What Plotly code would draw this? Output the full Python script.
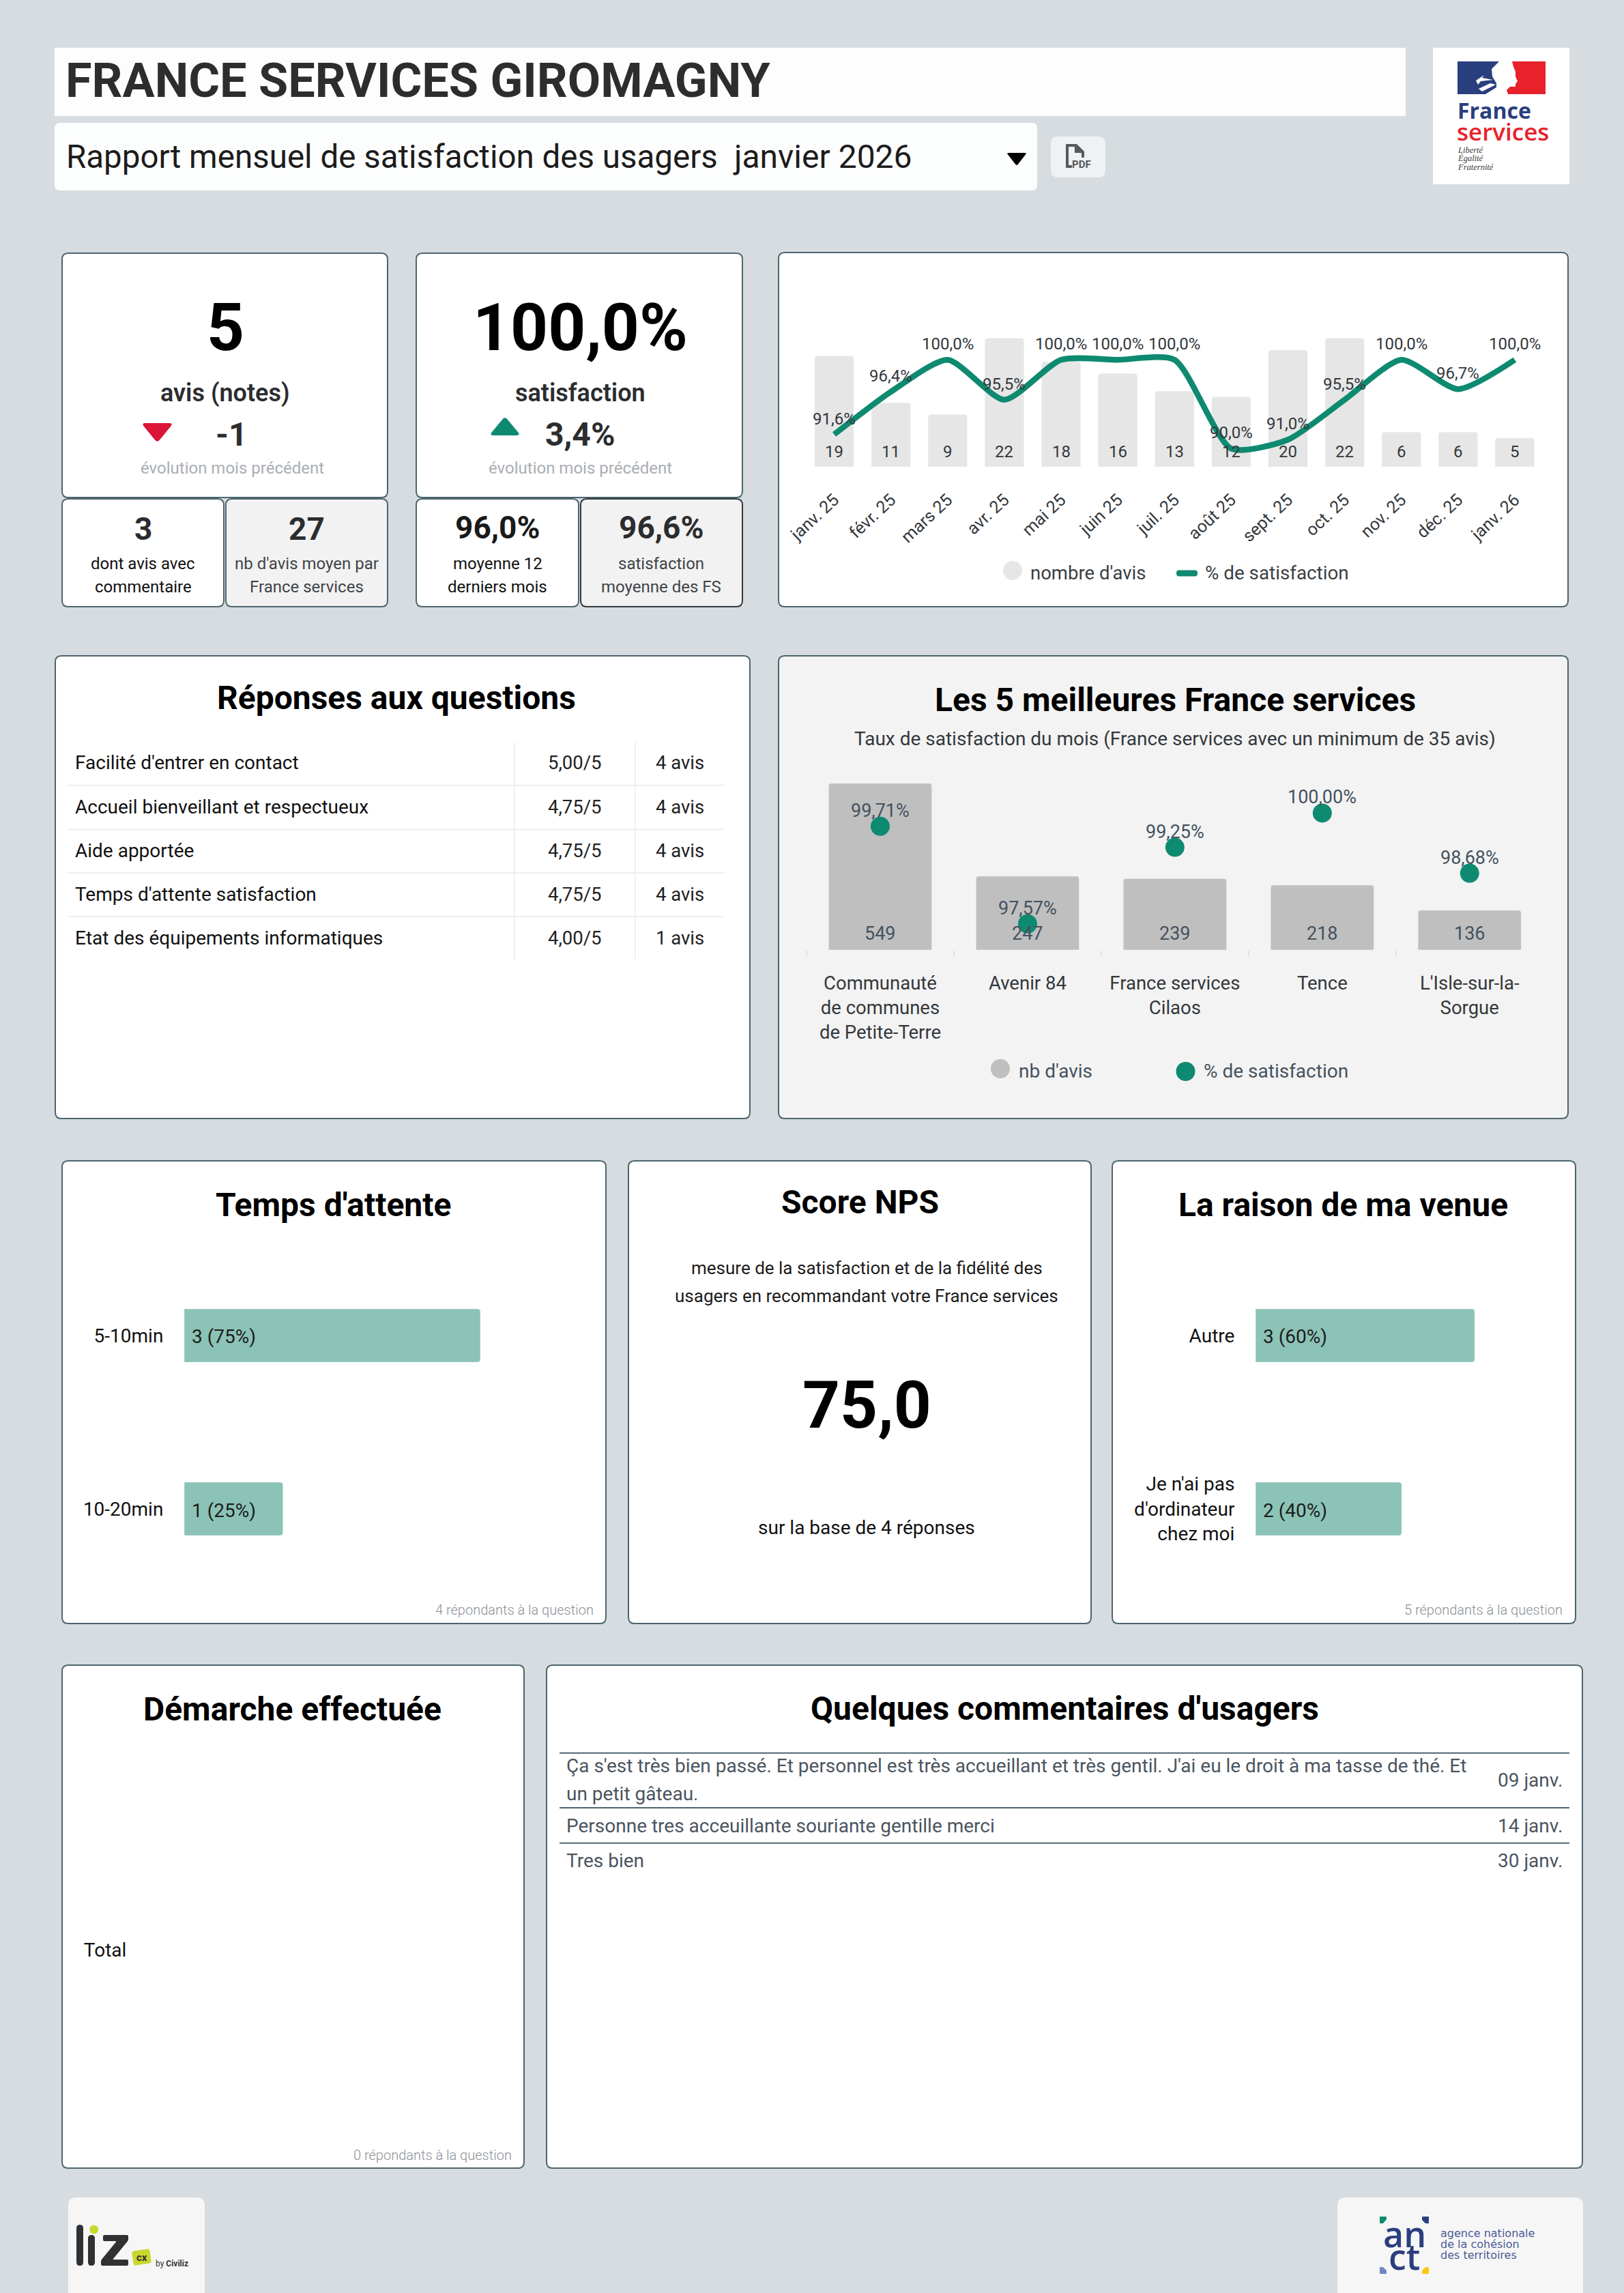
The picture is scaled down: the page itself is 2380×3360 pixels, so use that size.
import plotly.graph_objects as go

# ---------- data ----------
months = ["janv. 25", "févr. 25", "mars 25", "avr. 25", "mai 25", "juin 25", "juil. 25",
          "août 25", "sept. 25", "oct. 25", "nov. 25", "déc. 25", "janv. 26"]
nb_avis = [19, 11, 9, 22, 18, 16, 13, 12, 20, 22, 6, 6, 5]
satisfaction = [91.6, 96.4, 100.0, 95.5, 100.0, 100.0, 100.0, 90.0, 91.0, 95.5, 100.0, 96.7, 100.0]

top5_names = ["Communauté<br>de communes<br>de Petite-Terre", "Avenir 84", "France services<br>Cilaos",
              "Tence", "L'Isle-sur-la-<br>Sorgue"]
top5_avis = [549, 247, 239, 218, 136]
top5_satisf = [99.71, 97.57, 99.25, 100.00, 98.68]

questions = ["Facilité d'entrer en contact", "Accueil bienveillant et respectueux", "Aide apportée",
             "Temps d'attente satisfaction", "Etat des équipements informatiques"]
question_notes = ["5,00/5", "4,75/5", "4,75/5", "4,75/5", "4,00/5"]
question_avis = ["4 avis", "4 avis", "4 avis", "4 avis", "1 avis"]

attente_cat = ["5-10min", "10-20min"]
attente_val = [3, 1]
attente_lbl = ["3 (75%)", "1 (25%)"]

raison_cat = ["Autre", "Je n'ai pas<br>d'ordinateur<br>chez moi"]
raison_val = [3, 2]
raison_lbl = ["3 (60%)", "2 (40%)"]

demarche_cat = ["Total"]
demarche_val = [0]

comment_lines = [["Ça s'est très bien passé. Et personnel est très accueillant et très gentil. J'ai eu le droit à ma tasse de thé. Et",
                  "un petit gâteau."],
                 ["Personne tres acceuillante souriante gentille merci"],
                 ["Tres bien"]]
comment_dates = ["09 janv.", "14 janv.", "30 janv."]

# ---------- page geometry / style ----------
W, H = 2380, 3360
BG = "#d7dce0"
EDGE = "#4d646e"
GREEN = "#0e8a70"
SOFT = "#8bc3b7"
DARK = "#2b2d2f"
SLATE = "#44525f"
FONT = "Roboto"
CLEAR = "rgba(0,0,0,0)"
TITLE = 48


def X(v):
    return v / W


def Y(v):
    return 1 - v / H


shapes = []
ann = []


def rrect(x0, y0, x1, y1, r, fill, line=None, lw=2, layer="below"):
    p = (f"M {X(x0 + r)} {Y(y0)} L {X(x1 - r)} {Y(y0)} Q {X(x1)} {Y(y0)} {X(x1)} {Y(y0 + r)} "
         f"L {X(x1)} {Y(y1 - r)} Q {X(x1)} {Y(y1)} {X(x1 - r)} {Y(y1)} "
         f"L {X(x0 + r)} {Y(y1)} Q {X(x0)} {Y(y1)} {X(x0)} {Y(y1 - r)} "
         f"L {X(x0)} {Y(y0 + r)} Q {X(x0)} {Y(y0)} {X(x0 + r)} {Y(y0)} Z")
    shapes.append(dict(type="path", path=p, xref="paper", yref="paper", fillcolor=fill, layer=layer,
                       line=dict(color=line or fill, width=lw if line else 0)))


def poly(points, fill, r=0):
    n = len(points)
    parts = []
    for i in range(n):
        px, py = points[i]
        if r == 0:
            parts.append(("M" if i == 0 else "L") + f" {X(px)} {Y(py)}")
            continue
        ax, ay = points[i - 1]
        bx, by = points[(i + 1) % n]
        da = ((ax - px) ** 2 + (ay - py) ** 2) ** 0.5
        db = ((bx - px) ** 2 + (by - py) ** 2) ** 0.5
        sx, sy = px + (ax - px) * r / da, py + (ay - py) * r / da
        ex, ey = px + (bx - px) * r / db, py + (by - py) * r / db
        parts.append(("M" if i == 0 else "L") + f" {X(sx)} {Y(sy)} Q {X(px)} {Y(py)} {X(ex)} {Y(ey)}")
    shapes.append(dict(type="path", path=" ".join(parts) + " Z", xref="paper", yref="paper",
                       fillcolor=fill, line=dict(width=0), layer="below"))


def hline(x0, x1, y, color, w):
    shapes.append(dict(type="line", xref="paper", yref="paper", x0=X(x0), x1=X(x1), y0=Y(y), y1=Y(y),
                       line=dict(color=color, width=w), layer="below"))


def vline(x, y0, y1, color, w):
    shapes.append(dict(type="line", xref="paper", yref="paper", x0=X(x), x1=X(x), y0=Y(y0), y1=Y(y1),
                       line=dict(color=color, width=w), layer="below"))


def dot(cx, cy, d, color):
    shapes.append(dict(type="circle", xref="paper", yref="paper", x0=X(cx - d / 2), x1=X(cx + d / 2),
                       y0=Y(cy + d / 2), y1=Y(cy - d / 2), fillcolor=color, line=dict(width=0), layer="below"))


def txt(x, y, s, size, color="#000000", weight=400, anchor="center", family=FONT, style="normal"):
    ann.append(dict(xref="paper", yref="paper", x=X(x), y=Y(y), text=s, showarrow=False,
                    xanchor=anchor, yanchor="middle", borderpad=0, borderwidth=0,
                    font=dict(family=family, size=size, color=color, weight=weight, style=style)))


def dtxt(xref, yref, x, y, s, size, color, yshift=0, xshift=0, anchor="center"):
    ann.append(dict(xref=xref, yref=yref, x=x, y=y, text=s, showarrow=False, xanchor=anchor,
                    yanchor="middle", yshift=yshift, xshift=xshift, borderpad=0,
                    font=dict(family=FONT, size=size, color=color)))


def pct(v, d):
    return f"{v:.{d}f}".replace(".", ",") + "%"


# ---------- header ----------
rrect(80, 70, 2060, 170, 0.5, "#fdfdfd")
rrect(80, 180, 1520, 279, 8, "#fcfdfd")
txt(96, 118, "FRANCE SERVICES GIROMAGNY", 70.2, DARK, 700, "left")
txt(97, 230, "Rapport mensuel de satisfaction des usagers", 47.5, "#1c1c1c", 400, "left")
txt(1074, 230, "janvier 2026", 48, "#1c1c1c", 400, "left")
poly([(1475, 224), (1505, 224), (1490, 243)], "#000000", 3)
rrect(1540, 200, 1620, 260, 11, "#eff1f3")
poly([(1562, 211), (1578, 211), (1589, 222), (1589, 231), (1585, 231), (1585, 224), (1575, 224), (1575, 215),
      (1566, 215), (1566, 242), (1571, 242), (1571, 246), (1562, 246)], "#55595c", 1)
txt(1585, 241, "PDF", 15, "#55595c", 700)

# France services logo
rrect(2100, 70, 2300, 270, 0.5, "#ffffff")
poly([(2136, 90), (2210, 90), (2210, 138), (2136, 138)], "#2a3f7e")
poly([(2205, 90), (2265, 90), (2265, 138), (2205, 138)], "#e8212a")
poly([(2197, 90), (2216, 90), (2218, 98), (2221, 105), (2221, 112), (2224, 119), (2221, 123), (2221, 127),
      (2213, 127), (2208, 132), (2210, 138), (2177, 138), (2193, 128), (2193, 122), (2187, 112), (2186, 101)], "#ffffff")
poly([(2163, 118), (2175, 110), (2172, 114), (2188, 117), (2170, 119), (2166, 124)], "#ffffff")
poly([(2167, 130), (2184, 122), (2192, 124), (2180, 130), (2172, 134)], "#ffffff")
txt(2136, 161, "France", 32, "#2a3f7e", 700, "left", "Open Sans")
txt(2135, 192, "services", 35, "#e8212a", 600, "left", "Open Sans")
for yy, s in zip([220, 232, 245], ["Liberté", "Égalité", "Fraternité"]):
    txt(2136, yy, s, 12.5, "#3a3a3a", 400, "left", "Liberation Serif", "italic")

# ---------- KPI cards ----------
rrect(91, 371, 568, 729, 9, "#ffffff", EDGE)
rrect(610, 371, 1088, 729, 9, "#ffffff", EDGE)
rrect(91, 731, 328, 889, 9, "#ffffff", EDGE)
rrect(331, 731, 568, 889, 9, "#f2f2f2", EDGE)
rrect(610, 731, 848, 889, 9, "#ffffff", EDGE)
rrect(851, 731, 1088, 889, 9, "#f2f2f2", "#30393f")

txt(330, 480, "5", 96, "#000000", 700)
txt(330, 576, "avis (notes)", 36, DARK, 600)
poly([(207, 620), (254, 620), (230.5, 649)], "#dc1438", 6)
txt(338.6, 636, "-1", 48, DARK, 700)
txt(340, 686, "évolution mois précédent", 24, "#a9aeb3", 400)

txt(850, 480, "100,0%", 96, "#000000", 700)
txt(850, 576, "satisfaction", 36, DARK, 600)
poly([(717, 638), (763, 638), (740, 610)], GREEN, 6)
txt(850, 636, "3,4%", 48, DARK, 700)
txt(850, 686, "évolution mois précédent", 24, "#a9aeb3", 400)

txt(209.6, 775, "3", 46, DARK, 700)
txt(209.6, 826, "dont avis avec", 24, "#111111")
txt(209.6, 860, "commentaire", 24, "#111111")
txt(449.6, 775, "27", 46, DARK, 700)
txt(449.6, 826, "nb d'avis moyen par", 24, "#3f4448")
txt(449.6, 860, "France services", 24, "#3f4448")
txt(729, 773, "96,0%", 46, "#1a1a1a", 700)
txt(729, 826, "moyenne 12", 24, "#111111")
txt(729, 860, "derniers mois", 24, "#111111")
txt(969, 773, "96,6%", 46, DARK, 700)
txt(969, 826, "satisfaction", 24, "#3f4448")
txt(969, 860, "moyenne des FS", 24, "#3f4448")

# ---------- other panels ----------
rrect(1141, 370, 2298, 889, 9, "#ffffff", EDGE)
rrect(81, 961, 1099, 1639, 9, "#ffffff", EDGE)
rrect(1141, 961, 2298, 1639, 9, "#f3f3f3", EDGE)
rrect(91, 1701, 888, 2379, 9, "#ffffff", EDGE)
rrect(921, 1701, 1599, 2379, 9, "#ffffff", EDGE)
rrect(1630, 1701, 2309, 2379, 9, "#ffffff", EDGE)
rrect(91, 2440, 768, 3177, 9, "#ffffff", EDGE)
rrect(801, 2440, 2319, 3177, 9, "#ffffff", EDGE)

# legend chart 1
dot(1484, 836, 28, "#e6e6e6")
txt(1510, 839, "nombre d'avis", 27.5, "#3a3f44", 400, "left")
rrect(1724, 835.5, 1755, 844.5, 4, GREEN)
txt(1766, 839, "% de satisfaction", 27.8, "#3a3f44", 400, "left")

# reponses table
txt(580.6, 1023, "Réponses aux questions", TITLE, "#000000", 700)
row_y = [1118, 1182.4, 1246.7, 1310.5, 1374.8]
for yy in [1151, 1215.5, 1279, 1343]:
    hline(99, 1061, yy, "#f0f0f0", 2.5)
vline(753.7, 1088, 1406, "#f0f0f0", 2)
vline(931, 1088, 1406, "#f0f0f0", 2)
for yy, q, n, a in zip(row_y, questions, question_notes, question_avis):
    txt(110, yy, q, 28, "#111111", 400, "left")
    txt(881.5, yy, n, 27.5, "#222222", 400, "right")
    txt(1031.6, yy, a, 27.5, "#222222", 400, "right")

# top 5 headings and legend
txt(1722, 1025, "Les 5 meilleures France services", TITLE, "#000000", 700)
txt(1722, 1082, "Taux de satisfaction du mois (France services avec un minimum de 35 avis)", 28, "#33383c")
dot(1466, 1566, 28, "#bfbfbf")
txt(1492.6, 1569, "nb d'avis", 28, SLATE, 400, "left")
dot(1737.5, 1570, 28, GREEN)
txt(1764, 1569, "% de satisfaction", 28, SLATE, 400, "left")

# row 3 text
txt(488, 1765, "Temps d'attente", TITLE, "#000000", 700)
txt(870, 2359, "4 répondants à la question", 20, "#8b9095", 300, "right")
txt(1260, 1761, "Score NPS", TITLE, "#000000", 700)
txt(1270, 1858, "mesure de la satisfaction et de la fidélité des", 26, "#1c1c1c")
txt(1270, 1899, "usagers en recommandant votre France services", 26, "#1c1c1c")
txt(1270, 2059, "75,0", 96, "#000000", 700)
txt(1270, 2238, "sur la base de 4 réponses", 28, "#111111")
txt(1968.5, 1765, "La raison de ma venue", TITLE, "#000000", 700)
txt(2290, 2359, "5 répondants à la question", 20, "#8b9095", 300, "right")

# row 4 text
txt(428, 2504, "Démarche effectuée", TITLE, "#000000", 700)
txt(750, 3158, "0 répondants à la question", 20, "#8b9095", 300, "right")
txt(1560, 2503, "Quelques commentaires d'usagers", TITLE, "#000000", 700)
hline(820, 2300, 2568.7, EDGE, 2)
hline(820, 2300, 2649, EDGE, 2)
hline(820, 2300, 2700.7, EDGE, 2)
comment_y = [[2587.7, 2628], [2675], [2726.7]]
date_y = [2608, 2675, 2726.7]
for ys, lines, d, dy in zip(comment_y, comment_lines, comment_dates, date_y):
    for yy, s in zip(ys, lines):
        txt(830, yy, s, 28, "#4a5560", 400, "left")
    txt(2290, dy, d, 28, "#4a5560", 400, "right")

# footer logos
rrect(100, 3220, 300, 3375, 12, "#f6f6f6")
rrect(112, 3260, 122, 3320, 5, "#2f3133")
rrect(129, 3275, 139, 3320, 5, "#2f3133")
dot(137.7, 3267, 13, "#c9d82f")
poly([(151, 3275), (188, 3275), (188, 3283), (165, 3311), (188, 3311), (188, 3320), (148, 3320), (148, 3312),
      (171, 3284), (151, 3284)], "#2f3133", 2)
poly([(193, 3299), (219, 3295), (222, 3316), (196, 3320)], "#c9d82f", 3)
txt(207.5, 3308, "cx", 15, "#333333", 700)
txt(228, 3317, "by <b>Civiliz</b>", 12, "#333333", 400, "left")

rrect(1960, 3220, 2320, 3375, 12, "#f6f6f6")
txt(2058, 3272, "an", 52, "#2a3f7e", 600, "center", "Open Sans")
txt(2058, 3305, "ct", 52, "#2a3f7e", 600, "center", "Open Sans")
poly([(2022, 3258), (2022, 3248), (2032, 3248), (2032, 3252), (2027, 3258)], GREEN, 1)
poly([(2084, 3248), (2094, 3248), (2094, 3258), (2089, 3258), (2084, 3253)], "#2a3f7e", 1)
poly([(2022, 3322), (2027, 3322), (2032, 3327), (2032, 3332), (2022, 3332)], "#6f86c6", 1)
poly([(2089, 3322), (2094, 3322), (2094, 3332), (2084, 3332), (2084, 3327)], "#f7ca17", 1)
for yy, s in zip([3272, 3288, 3304], ["agence nationale", "de la cohésion", "des territoires"]):
    txt(2111, yy, s, 16, "#4c5c94", 400, "left", "DejaVu Sans")

# ---------- charts ----------
fig = go.Figure()

fig.add_trace(go.Bar(x=months, y=nb_avis, xaxis="x", yaxis="y", name="nombre d'avis", marker_color="#e6e6e6"))
fig.add_trace(go.Scatter(x=months, y=satisfaction, xaxis="x", yaxis="y2", name="% de satisfaction", mode="lines",
                         line=dict(color=GREEN, width=8.5, shape="spline", smoothing=0.65)))
for m, n, s in zip(months, nb_avis, satisfaction):
    dtxt("x", "y", m, 0.1, str(n), 24, "#33383c", yshift=22)
    dtxt("x", "y2", m, s, pct(s, 1), 24, "#33383c", yshift=23)

fig.add_trace(go.Bar(x=top5_names, y=top5_avis, xaxis="x3", yaxis="y3", name="nb d'avis", marker_color="#bfbfbf"))
fig.add_trace(go.Scatter(x=top5_names, y=top5_satisf, xaxis="x3", yaxis="y4", name="% de satisfaction", mode="markers",
                         marker=dict(color=GREEN, size=28)))
for m, n, s in zip(top5_names, top5_avis, top5_satisf):
    dtxt("x3", "y3", m, 7.5, str(n), 27, SLATE, yshift=24)
    dtxt("x3", "y4", m, s, pct(s, 2), 27, SLATE, yshift=23)

fig.add_trace(go.Bar(y=attente_cat, x=attente_val, orientation="h", xaxis="x5", yaxis="y5", name="Temps d'attente",
                     marker_color=SOFT))
for c, v, l in zip(attente_cat, attente_val, attente_lbl):
    dtxt("x5", "y5", 0, c, l, 28, "#1c1c1c", xshift=10, yshift=-2, anchor="left")

fig.add_trace(go.Bar(y=raison_cat, x=raison_val, orientation="h", xaxis="x6", yaxis="y6", name="La raison de ma venue",
                     marker_color=SOFT))
for c, v, l in zip(raison_cat, raison_val, raison_lbl):
    dtxt("x6", "y6", 0, c, l, 28, "#1c1c1c", xshift=10, yshift=-2, anchor="left")

fig.add_trace(go.Bar(y=demarche_cat, x=demarche_val, orientation="h", xaxis="x7", yaxis="y7", name="Démarche effectuée",
                     marker=dict(color=CLEAR, line=dict(width=0))))

hidden = dict(visible=False, showgrid=False, zeroline=False, automargin=False)
tick_none = dict(showgrid=False, zeroline=False, showline=False, automargin=False)

fig.update_layout(
    width=W, height=H, autosize=False, margin=dict(l=0, r=0, t=0, b=0, pad=0),
    paper_bgcolor=BG, plot_bgcolor=CLEAR, showlegend=False, barcornerradius=4, bargap=0.31,
    font=dict(family=FONT, color=DARK),
    shapes=shapes, annotations=ann,
    xaxis=dict(domain=[X(1181), X(2261.5)], anchor="y", type="category", categoryorder="array", categoryarray=months,
               range=[-0.5, 12.5], tickangle=-43, ticks="", ticklabelstandoff=28,
               tickfont=dict(family=FONT, size=25, color="#33383c"), **tick_none),
    yaxis=dict(domain=[Y(684), Y(440)], anchor="x", range=[0.1, 28.5], **hidden),
    yaxis2=dict(domain=[Y(684), Y(440)], anchor="x", overlaying="y", range=[87.95, 106.7], **hidden),
    xaxis3=dict(domain=[X(1182), X(2261.7)], anchor="y3", type="category", categoryorder="array", categoryarray=top5_names,
                range=[-0.5, 4.5], tickson="boundaries", ticks="outside", ticklen=9, tickwidth=2, tickcolor="#e2e2e2",
                ticklabelstandoff=30, tickangle=0, tickfont=dict(family=FONT, size=27.5, color="#33383c"), **tick_none),
    yaxis3=dict(domain=[Y(1391.8), Y(1120)], anchor="x3", range=[7.5, 611], **hidden),
    yaxis4=dict(domain=[Y(1391.8), Y(1120)], anchor="x3", overlaying="y3", range=[97.0, 101.07], **hidden),
    xaxis5=dict(domain=[X(270), X(850)], anchor="y5", range=[0, 4.01], **hidden),
    yaxis5=dict(domain=[Y(2338), Y(1830)], anchor="x5", type="category", categoryorder="array", categoryarray=attente_cat,
                range=[1.5, -0.5], ticks="outside", ticklen=24, tickcolor=CLEAR,
                tickfont=dict(family=FONT, size=28, color="#111111"), **tick_none),
    xaxis6=dict(domain=[X(1840), X(2280)], anchor="y6", range=[0, 4.11], **hidden),
    yaxis6=dict(domain=[Y(2338), Y(1830)], anchor="x6", type="category", categoryorder="array", categoryarray=raison_cat,
                range=[1.5, -0.5], ticks="outside", ticklen=24, tickcolor=CLEAR,
                tickfont=dict(family=FONT, size=28, color="#111111"), **tick_none),
    xaxis7=dict(domain=[X(216), X(740)], anchor="y7", range=[0, 1], **hidden),
    yaxis7=dict(domain=[Y(3102), Y(2612)], anchor="x7", type="category", ticks="outside", ticklen=24, tickcolor=CLEAR,
                tickfont=dict(family=FONT, size=28, color="#111111"), **tick_none),
)
fig.data[0].update(width=0.686)
fig.data[2].update(width=0.70)
fig.data[4].update(width=0.307)
fig.data[5].update(width=0.307)

fig.write_html("out.html", config=dict(displayModeBar=False),
               post_script="document.body.style.margin='0';document.documentElement.style.background='#d7dce0';")
